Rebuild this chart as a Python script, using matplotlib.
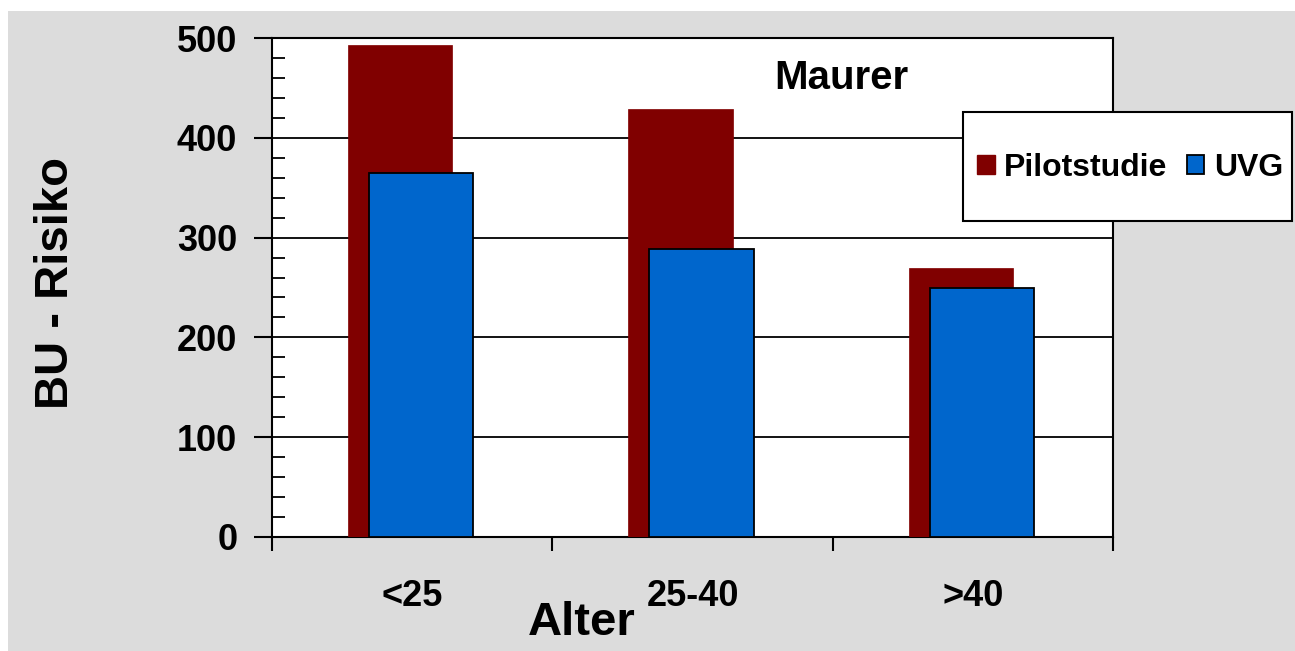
import matplotlib.pyplot as plt
from matplotlib.patches import Rectangle, Patch

# Daten
kategorien = ['<25', '25-40', '>40']
pilotstudie = [493, 429, 270]
uvg = [365, 289, 250]

farbe_pilot = '#800000'
farbe_uvg = '#0066CC'
grau = '#DCDCDC'

W, H = 1295, 651
fig = plt.figure(figsize=(W / 100, H / 100), dpi=100)
fig.patch.set_facecolor('white')

# grauer Hintergrund (weisser Rand oben/links)
fig.patches.append(Rectangle((8 / W, 0), 1 - 8 / W, 1 - 11 / H,
                             transform=fig.transFigure, facecolor=grau,
                             edgecolor='none', zorder=-1))

ax = fig.add_axes([272 / W, (H - 537) / H, (1113 - 272) / W, (537 - 38) / H])
ax.set_facecolor('white')
ax.set_zorder(1)

mitte = [i + 0.5 for i in range(len(kategorien))]
breite = 104 / 280

ax.bar([m - 12 / 280 for m in mitte], pilotstudie, width=breite,
       color=farbe_pilot, edgecolor=farbe_pilot, linewidth=0.5, zorder=3)
ax.bar([m + 9 / 280 for m in mitte], uvg, width=breite,
       color=farbe_uvg, edgecolor='black', linewidth=1.3, zorder=4)

ax.set_xlim(0, 3)
ax.set_ylim(0, 500)

# Gitterlinien
for y in [100, 200, 300, 400]:
    ax.axhline(y, color='black', linewidth=1.3, zorder=1)

for s in ax.spines.values():
    s.set_linewidth(1.5)
    s.set_color('black')

fett = {'family': 'Liberation Sans', 'weight': 'bold'}

ax.set_yticks([0, 100, 200, 300, 400, 500])
ax.set_yticks(range(0, 501, 20), minor=True)
ax.tick_params(axis='y', which='major', direction='out', length=13, width=1.5, pad=12)
ax.tick_params(axis='y', which='minor', direction='in', length=9, width=1.3)
for lbl in ax.get_yticklabels():
    lbl.set_fontproperties(fett)
    lbl.set_fontsize(26)

ax.set_xticks([0, 1, 2, 3])
ax.set_xticklabels([])
ax.set_xticks(mitte, minor=True)
ax.set_xticklabels(kategorien, minor=True, fontdict={**fett, 'size': 26})
ax.tick_params(axis='x', which='major', direction='out', length=10, width=1.5)
ax.tick_params(axis='x', which='minor', length=0, pad=30)

fig.text(56 / W, 1 - 283 / H, 'BU - Risiko', rotation=90, ha='center', va='center',
         fontdict={**fett, 'size': 34})
fig.text(582 / W, 1 - 623 / H, 'Alter', ha='center', va='center',
         fontdict={**fett, 'size': 34})
ax.text(841 / W, 1 - 78 / H, 'Maurer', ha='center', va='center',
        transform=fig.transFigure, fontdict={**fett, 'size': 29}, zorder=6)

# Legende
fig.patches.append(Rectangle((963 / W, 1 - 221 / H), (1292 - 963) / W, (221 - 112) / H,
                             transform=fig.transFigure, facecolor='white',
                             edgecolor='black', linewidth=1.5, zorder=5))
handles = [Patch(facecolor=farbe_pilot, edgecolor=farbe_pilot),
           Patch(facecolor=farbe_uvg, edgecolor='black', linewidth=1.3)]
leg = fig.legend(handles, ['Pilotstudie', 'UVG'], loc='center',
                 bbox_to_anchor=(1130 / W, 1 - 168 / H), ncol=2, frameon=False,
                 prop={**fett, 'size': 23}, handlelength=0.55, handleheight=0.55,
                 handletextpad=0.3, columnspacing=0.6, borderpad=0)
leg.set_zorder(6)

fig.savefig('out.png', dpi=100)
